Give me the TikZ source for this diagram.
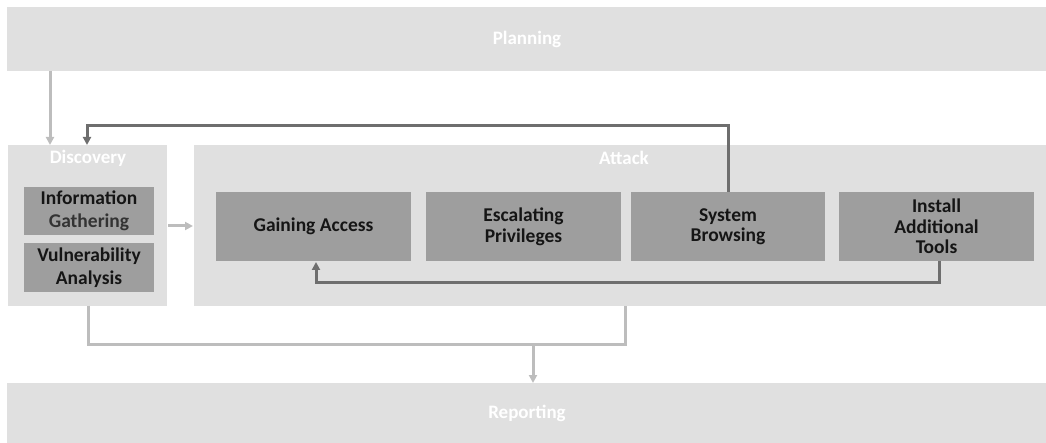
\documentclass[tikz,border=0pt]{standalone}
\usepackage{fontspec}
\setmainfont{Carlito}
\usetikzlibrary{arrows.meta}
\definecolor{outerbg}{HTML}{E0E0E0}
\definecolor{innerbg}{HTML}{9E9E9E}
\definecolor{darkline}{HTML}{6E6E6E}
\definecolor{lightline}{HTML}{BDBDBD}
\definecolor{txt}{HTML}{151515}
\definecolor{txtgray}{HTML}{333333}
\begin{document}
\begin{tikzpicture}[x=1pt,y=-1pt,
  outerbox/.style={fill=outerbg,draw=none,inner sep=0pt,outer sep=0pt},
  innerbox/.style={fill=innerbg,draw=none,inner sep=0pt,outer sep=0pt},
  header/.style={text=white,font=\bfseries\fontsize{19}{21}\selectfont,inner sep=0pt},
  lbl/.style={text=txt,font=\bfseries\fontsize{19.5}{20.5}\selectfont,align=center,inner sep=0pt},
  lblwide/.style={lbl,font=\bfseries\fontsize{19.5}{22.5}\selectfont},
  darkarrow/.style={draw=darkline,line width=3pt,-{Triangle[length=8pt,width=8pt]}},
  darkline/.style={draw=darkline,line width=3pt},
  lightarrow/.style={draw=lightline,line width=3pt,-{Triangle[length=8pt,width=8pt]}},
  lightline/.style={draw=lightline,line width=3pt}]
\useasboundingbox (0,0) rectangle (1046,443);
% outer boxes
\path[outerbox] (7,7) rectangle (1046,71);
\node[header] (planning) at (527,39) {Planning};
\path[outerbox] (8,145) rectangle (167,306);
\node[header] (discovery) at (88,158) {Discovery};
\path[outerbox] (194,145) rectangle (1046,306);
\node[header] (attack) at (624,158) {Attack};
\path[outerbox] (7,383) rectangle (1046,443);
\node[header] (reporting) at (527,413) {Reporting};
% inner boxes
\path[innerbox] (24,187) rectangle (154,235);
\node[lblwide] (info) at (89,211) {Information\\\textcolor{txtgray}{Gathering}};
\path[innerbox] (24,243) rectangle (154,292);
\node[lblwide] (vuln) at (89,267.5) {Vulnerability\\Analysis};
\path[innerbox] (216,192) rectangle (411,261);
\node[lbl] (gain) at (313.5,226.5) {Gaining Access};
\path[innerbox] (426,192) rectangle (621,261);
\node[lbl] (esc) at (523.5,227) {Escalating\\Privileges};
\path[innerbox] (631,192) rectangle (825,261);
\node[lbl] (sys) at (728,227) {System\\Browsing};
\path[innerbox] (839,192) rectangle (1034,261);
\node[lbl] (inst) at (936.5,226.5) {Install\\Additional\\Tools};
% named anchor coordinates
\coordinate (planB) at (50,71);
\coordinate (discT) at (50,145);
\coordinate (discT2) at (87,145);
\coordinate (sysT) at (728,192);
\coordinate (discR) at (168,226);
\coordinate (attL) at (193,226);
\coordinate (instB) at (939,261);
\coordinate (gainB) at (316,262);
\coordinate (discB) at (88,306);
\coordinate (attB) at (625,306);
\coordinate (joinM) at (533,344);
\coordinate (repT) at (533,383);
% connectors
\draw[lightarrow] (planB) -- (discT);
\draw[darkarrow] (sysT) |- (87,126) -- (discT2);
\draw[lightarrow] (discR) -- (attL);
\draw[darkarrow] (instB) |- (316,283) -- (gainB);
\draw[lightline] (discB) |- (attB |- joinM) -- (attB);
\draw[lightarrow] (joinM) -- (repT);
\end{tikzpicture}
\end{document}
